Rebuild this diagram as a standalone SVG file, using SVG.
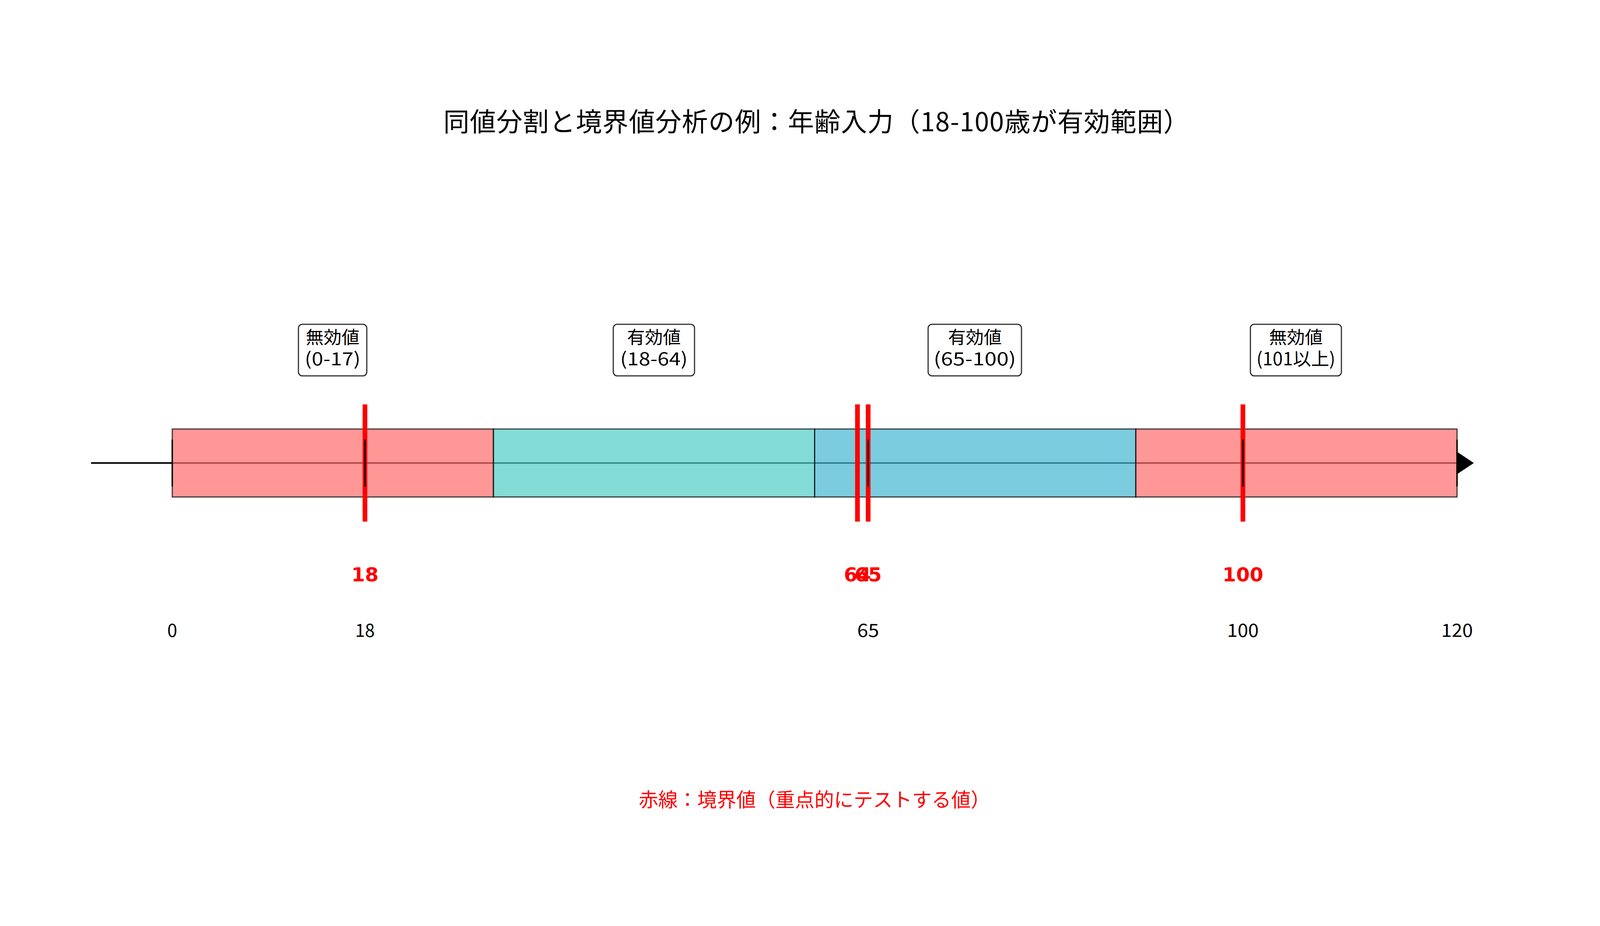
<svg xmlns="http://www.w3.org/2000/svg" width="4170" height="2370" viewBox="0 0 4170 2370">
<style>
.bg{fill:#ffffff}
.seg{stroke:#000000;stroke-opacity:0.72;stroke-width:3;fill-opacity:0.7}
.inv{fill:#FF6B6B}
.val1{fill:#4ECDC4}
.val2{fill:#45B7D1}
.bnd{stroke:#ff0000;stroke-width:12}
.tick{stroke:#000000;stroke-width:3.5}
.lbox{fill:#ffffff;stroke:#333333;stroke-width:3}
.cjk{font-family:"Noto Sans CJK JP","Noto Sans CJK SC",sans-serif}
.lbl{font-size:45.8px;fill:#000000;text-anchor:middle}
.ticklbl{font-size:45.8px;fill:#000000;text-anchor:middle}
.bval{font-family:"DejaVu Sans",sans-serif;font-weight:bold;font-size:50px;fill:#ff0000;text-anchor:middle}
</style>
<rect class="bg" x="0" y="0" width="4170" height="2370"/>
<g id="title">
<text class="cjk" x="2090" y="336" font-size="66.7" text-anchor="middle" fill="#000000" textLength="1910" lengthAdjust="spacing">同値分割と境界値分析の例：年齢入力（18-100歳が有効範囲）</text>
</g>
<g id="axis">
<line x1="233" y1="1185" x2="3730" y2="1185" stroke="#000000" stroke-width="4"/>
<polygon points="3728,1155 3773,1185 3728,1215" fill="#000000"/>
</g>
<g id="seg-invalid-low"><rect class="seg inv" x="441" y="1098" width="822.2" height="174"/></g>
<g id="seg-valid-1"><rect class="seg val1" x="1263.2" y="1098" width="822.3" height="174"/></g>
<g id="seg-valid-2"><rect class="seg val2" x="2085.5" y="1098" width="822.2" height="174"/></g>
<g id="seg-invalid-high"><rect class="seg inv" x="2907.7" y="1098" width="822.3" height="174"/></g>
<g id="boundaries">
<line class="bnd" x1="934.3" y1="1035" x2="934.3" y2="1335"/>
<line class="bnd" x1="2195.1" y1="1035" x2="2195.1" y2="1335"/>
<line class="bnd" x1="2222.5" y1="1035" x2="2222.5" y2="1335"/>
<line class="bnd" x1="3181.8" y1="1035" x2="3181.8" y2="1335"/>
</g>
<g id="ticks">
<line class="tick" x1="441" y1="1125" x2="441" y2="1245"/>
<line class="tick" x1="934.3" y1="1125" x2="934.3" y2="1245"/>
<line class="tick" x1="2222.5" y1="1125" x2="2222.5" y2="1245"/>
<line class="tick" x1="3181.8" y1="1125" x2="3181.8" y2="1245"/>
<line class="tick" x1="3730" y1="1125" x2="3730" y2="1245"/>
</g>
<g id="label-invalid-low">
<rect class="lbox" x="764" y="830" width="175" height="132" rx="10"/>
<text class="cjk lbl" x="851.5" y="880">無効値</text>
<text class="cjk lbl" x="851.5" y="935" textLength="143" lengthAdjust="spacingAndGlyphs">(0-17)</text>
</g>
<g id="label-valid-1">
<rect class="lbox" x="1570" y="830" width="208" height="132" rx="10"/>
<text class="cjk lbl" x="1674" y="880">有効値</text>
<text class="cjk lbl" x="1674" y="935" textLength="173" lengthAdjust="spacingAndGlyphs">(18-64)</text>
</g>
<g id="label-valid-2">
<rect class="lbox" x="2376" y="830" width="239" height="132" rx="10"/>
<text class="cjk lbl" x="2495.5" y="880">有効値</text>
<text class="cjk lbl" x="2495.5" y="935" textLength="211" lengthAdjust="spacingAndGlyphs">(65-100)</text>
</g>
<g id="label-invalid-high">
<rect class="lbox" x="3201" y="830" width="233" height="132" rx="10"/>
<text class="cjk lbl" x="3317.5" y="880">無効値</text>
<text class="cjk lbl" x="3317.5" y="935" textLength="202" lengthAdjust="spacingAndGlyphs">(101以上)</text>
</g>
<g id="boundary-values">
<text class="bval" x="934.3" y="1488">18</text>
<text class="bval" x="2195.1" y="1488">64</text>
<text class="bval" x="2222.5" y="1488">65</text>
<text class="bval" x="3181.8" y="1488">100</text>
</g>
<g id="tick-labels">
<text class="cjk ticklbl" x="441" y="1629.5">0</text>
<text class="cjk ticklbl" x="934.3" y="1629.5" textLength="50" lengthAdjust="spacingAndGlyphs">18</text>
<text class="cjk ticklbl" x="2222.5" y="1629.5" textLength="56" lengthAdjust="spacingAndGlyphs">65</text>
<text class="cjk ticklbl" x="3181.8" y="1629.5" textLength="81" lengthAdjust="spacingAndGlyphs">100</text>
<text class="cjk ticklbl" x="3730" y="1629.5" textLength="81" lengthAdjust="spacingAndGlyphs">120</text>
</g>
<g id="note">
<text class="cjk" x="2085" y="2064.5" font-size="50" text-anchor="middle" fill="#ff0000">赤線：境界値（重点的にテストする値）</text>
</g>
</svg>
